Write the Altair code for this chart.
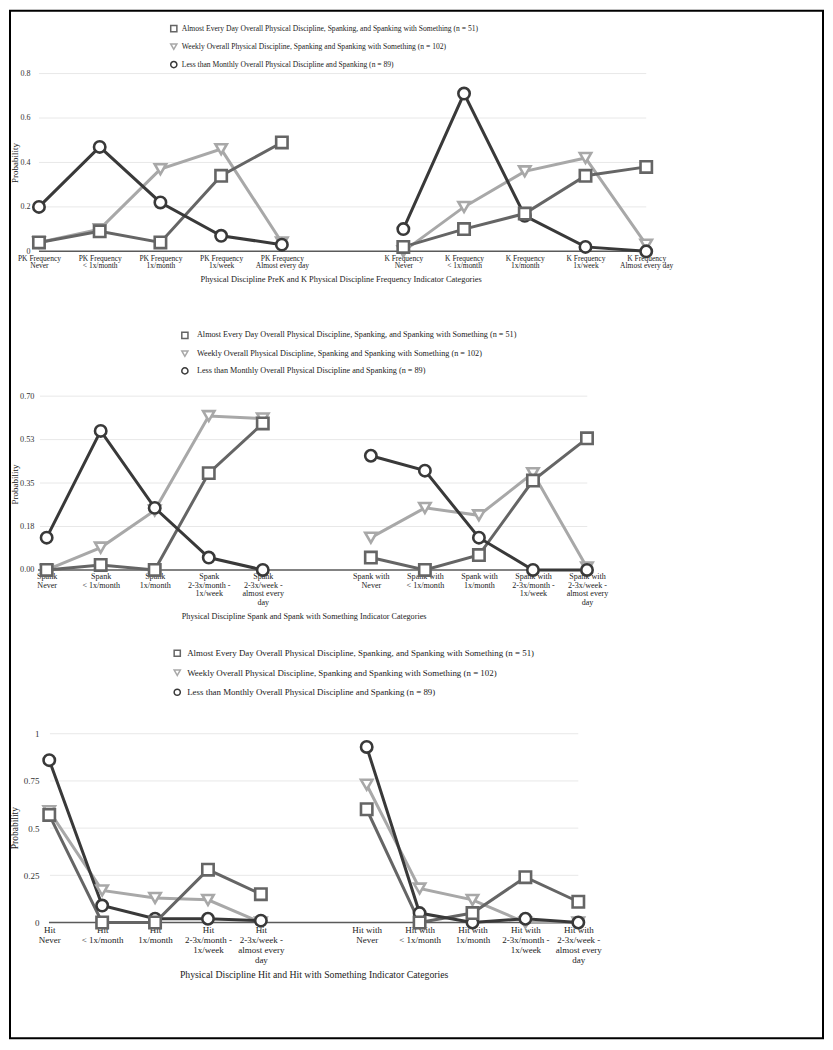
import json
import altair as alt
import pandas as pd

FONT = "Liberation Serif"

# ---------------- data ----------------
S_DAILY = "Almost Every Day Overall Physical Discipline, Spanking, and Spanking with Something (n = 51)"
S_WEEKLY = "Weekly Overall Physical Discipline, Spanking and Spanking with Something (n = 102)"
S_MONTHLY = "Less than Monthly Overall Physical Discipline and Spanking (n = 89)"
SERIES = [S_DAILY, S_WEEKLY, S_MONTHLY]
SHAPES = ["square", "triangle-down", "circle"]
COLORS = ["#656565", "#a8a8a8", "#393939"]
GAP = "gap"

P1_CATS = ["PK Frequency|Never", "PK Frequency|< 1x/month", "PK Frequency|1x/month",
           "PK Frequency|1x/week", "PK Frequency|Almost every day",
           "K Frequency|Never", "K Frequency|< 1x/month", "K Frequency|1x/month",
           "K Frequency|1x/week", "K Frequency|Almost every day"]
P1_DAILY = [0.04, 0.09, 0.04, 0.34, 0.49, 0.02, 0.10, 0.17, 0.34, 0.38]
P1_WEEKLY = [0.04, 0.10, 0.37, 0.46, 0.04, 0.00, 0.20, 0.36, 0.42, 0.03]
P1_MONTHLY = [0.20, 0.47, 0.22, 0.07, 0.03, 0.10, 0.71, 0.16, 0.02, 0.00]
P1_TICKS = [0, 0.2, 0.4, 0.6, 0.8]
P1_TICK_LABELS = ["0", "0.2", "0.4", "0.6", "0.8"]
P1_XTITLE = "Physical Discipline PreK and K Physical Discipline Frequency Indicator Categories"

P2_CATS = ["Spank|Never", "Spank|< 1x/month", "Spank|1x/month",
           "Spank|2-3x/month -|1x/week", "Spank|2-3x/week -|almost every|day",
           "Spank with|Never", "Spank with|< 1x/month", "Spank with|1x/month",
           "Spank with|2-3x/month -|1x/week", "Spank with|2-3x/week -|almost every|day"]
P2_DAILY = [0.00, 0.02, 0.00, 0.39, 0.59, 0.05, 0.00, 0.06, 0.36, 0.53]
P2_WEEKLY = [0.00, 0.09, 0.24, 0.62, 0.61, 0.13, 0.25, 0.22, 0.39, 0.01]
P2_MONTHLY = [0.13, 0.56, 0.25, 0.05, 0.00, 0.46, 0.40, 0.13, 0.00, 0.00]
P2_TICKS = [0, 0.175, 0.35, 0.525, 0.7]
P2_TICK_LABELS = ["0.00", "0.18", "0.35", "0.53", "0.70"]
P2_XTITLE = "Physical Discipline Spank and Spank with Something Indicator Categories"

P3_CATS = ["Hit|Never", "Hit|< 1x/month", "Hit|1x/month",
           "Hit|2-3x/month -|1x/week", "Hit|2-3x/week -|almost every|day",
           "Hit with|Never", "Hit with|< 1x/month", "Hit with|1x/month",
           "Hit with|2-3x/month -|1x/week", "Hit with|2-3x/week -|almost every|day"]
P3_DAILY = [0.57, 0.00, 0.00, 0.28, 0.15, 0.60, 0.00, 0.05, 0.24, 0.11]
P3_WEEKLY = [0.59, 0.17, 0.13, 0.12, 0.00, 0.73, 0.18, 0.12, 0.00, 0.00]
P3_MONTHLY = [0.86, 0.09, 0.02, 0.02, 0.01, 0.93, 0.05, 0.00, 0.02, 0.00]
P3_TICKS = [0, 0.25, 0.5, 0.75, 1]
P3_TICK_LABELS = ["0", "0.25", "0.5", "0.75", "1"]
P3_XTITLE = "Physical Discipline Hit and Hit with Something Indicator Categories"

LINE_ORDER = [S_WEEKLY, S_DAILY, S_MONTHLY]
POINT_ORDER = [S_WEEKLY, S_MONTHLY, S_DAILY]


def panel(cats, daily, weekly, monthly, ticks, tick_labels, xtitle, g, frame=False):
    rows = []
    for s, vals in zip(SERIES, [daily, weekly, monthly]):
        for i, (c, v) in enumerate(zip(cats, vals)):
            rows.append({"cat": c, "grp": "a" if i < 5 else "b", "series": s, "value": v})
    df = pd.DataFrame(rows)
    domain = cats[:5] + [GAP] + cats[5:]

    x_enc = alt.X(
        "cat:N",
        scale=alt.Scale(type="point", domain=domain, range=g["xr"], padding=0),
        axis=alt.Axis(
            title=xtitle, labelAngle=0,
            labelExpr=f"datum.label == '{GAP}' ? '' : split(datum.label, '|')",
            labelFontSize=g["xl_fs"], labelLineHeight=g["xl_lh"], labelBaseline="top",
            labelPadding=3, labelOverlap=False, labelLimit=300, labelColor="#222",
            labelFont=FONT, domain=False, ticks=False, grid=False,
            titleFont=FONT, titleFontSize=g["xt_fs"], titleFontWeight="normal",
            titleColor="#222", titleX=g["xt_x"], titleY=g["xt_y"], titleBaseline="top",
        ),
    )
    y_enc = alt.Y(
        "value:Q",
        scale=alt.Scale(domain=[0, ticks[-1]], nice=False, zero=True),
        axis=alt.Axis(
            title="Probability", values=ticks,
            labelExpr=f"{json.dumps(tick_labels)}[indexof({json.dumps(ticks)}, datum.value)]",
            grid=False, domain=False, ticks=False, labelPadding=g["yl_pad"],
            labelFontSize=g["yl_fs"], labelColor="#333", labelFont=FONT,
            titleFont=FONT, titleFontSize=g["yt_fs"], titleFontWeight="normal",
            titleColor="#222", titleX=g["yt_x"], titleY=g["yt_y"],
        ),
    )
    legend = alt.Legend(
        title=None, orient="none", legendX=g["lg_x"], legendY=g["lg_y"],
        labelFont=FONT, labelFontSize=g["lg_fs"], labelColor="#222", labelLimit=1000,
        labelOffset=g["lg_off"], rowPadding=g["lg_row"], symbolSize=38,
        symbolStrokeWidth=1.5, padding=0,
    )
    color_scale = alt.Scale(domain=SERIES, range=COLORS)
    shape_scale = alt.Scale(domain=SERIES, range=SHAPES)

    layers = []
    grid = alt.Chart(pd.DataFrame({"value": ticks[1:]})).mark_rule(
        color="#e8e8e8", strokeWidth=1
    ).encode(y=y_enc, x=alt.value(g["grid"][0]), x2=alt.value(g["grid"][1]))
    zero = alt.Chart(pd.DataFrame({"value": [0]})).mark_rule(
        color="#5a5a5a", strokeWidth=1.5
    ).encode(y=y_enc, x=alt.value(g["zero"][0]), x2=alt.value(g["zero"][1]))
    layers += [grid, zero]

    base = alt.Chart(df)
    for s in LINE_ORDER:
        layers.append(
            base.transform_filter(alt.datum.series == s)
            .mark_line(strokeWidth=3)
            .encode(x=x_enc, y=y_enc, color=alt.value(COLORS[SERIES.index(s)]),
                    detail="grp:N")
        )
    for s in POINT_ORDER:
        layers.append(
            base.transform_filter(alt.datum.series == s)
            .mark_point(filled=False, fill="white", fillOpacity=1, opacity=1,
                        strokeWidth=2.6, size=130)
            .encode(x=x_enc, y=y_enc,
                    color=alt.Color("series:N", scale=color_scale, legend=legend),
                    shape=alt.Shape("series:N", scale=shape_scale, legend=legend))
        )
    if frame:
        layers.append(
            alt.Chart(pd.DataFrame({"f": [0]})).mark_rect(
                filled=False, color="black", strokeWidth=2
            ).encode(x=alt.value(-29), x2=alt.value(785), y=alt.value(-63), y2=alt.value(966))
        )
    return alt.layer(*layers).properties(width=g["w"], height=g["h"])


def spacer(h):
    return alt.Chart(pd.DataFrame({"v": [0]})).mark_point(opacity=0).encode(
        x=alt.X("v:Q", axis=None), y=alt.Y("v:Q", axis=None)
    ).properties(width=10, height=h)


g1 = dict(w=608, h=178, xr=[0, 608], grid=[0, 608], zero=[0, 611],
          xl_fs=7.5, xl_lh=7.4, xt_fs=8.4, xt_x=302, xt_y=23,
          yl_pad=9, yl_fs=8, yt_fs=9, yt_x=-19, yt_y=89,
          lg_x=131, lg_y=-49, lg_fs=7.6, lg_off=4, lg_row=5)
g2 = dict(w=549, h=174, xr=[7.7, 548.7], grid=[1, 549], zero=[-1, 549],
          xl_fs=8.1, xl_lh=8.4, xt_fs=8.2, xt_x=265, xt_y=43,
          yl_pad=5, yl_fs=8.3, yt_fs=9, yt_x=-19, yt_y=88,
          lg_x=142, lg_y=-65, lg_fs=8.2, lg_off=8, lg_row=5.3)
g3 = dict(w=540, h=189, xr=[10.3, 540], grid=[11, 540], zero=[10, 540],
          xl_fs=9, xl_lh=10, xt_fs=9.8, xt_x=275, xt_y=47,
          yl_pad=0, yl_fs=9, yt_fs=9.5, yt_x=-19, yt_y=94,
          lg_x=134, lg_y=-85, lg_fs=8.9, lg_off=5.5, lg_row=6.5)

p1 = panel(P1_CATS, P1_DAILY, P1_WEEKLY, P1_MONTHLY, P1_TICKS, P1_TICK_LABELS, P1_XTITLE, g1, frame=True)
p2 = panel(P2_CATS, P2_DAILY, P2_WEEKLY, P2_MONTHLY, P2_TICKS, P2_TICK_LABELS, P2_XTITLE, g2)
p3 = panel(P3_CATS, P3_DAILY, P3_WEEKLY, P3_MONTHLY, P3_TICKS, P3_TICK_LABELS, P3_XTITLE, g3)

chart = (
    alt.vconcat(p1, spacer(145), p2, spacer(164), p3, spacing=0, bounds="flush")
    .resolve_scale(color="independent", shape="independent")
    .properties(padding=0, background="white")
    .configure(font=FONT)
    .configure_view(stroke="transparent")
)

chart.save("out.html", embed_options={"renderer": "svg", "actions": False})
